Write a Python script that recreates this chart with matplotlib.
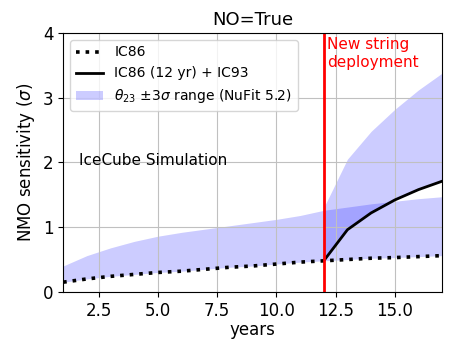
import matplotlib
matplotlib.use('Agg')
import matplotlib.pyplot as plt

# Dataset declaration
years = [1, 2, 3, 4, 5, 6, 7, 8, 9, 10, 11, 12, 13, 14, 15, 16, 17]
ic86 = [0.15, 0.20, 0.24, 0.27, 0.30, 0.32, 0.35, 0.38, 0.40, 0.43, 0.46, 0.48, 0.50, 0.52, 0.53, 0.545, 0.56]
band_ic86_upper = [0.40, 0.56, 0.68, 0.78, 0.86, 0.92, 0.97, 1.02, 1.07, 1.12, 1.18, 1.26, 1.31, 1.36, 1.40, 1.44, 1.47]

years_new = [12, 13, 14, 15, 16, 17]
ic93 = [0.48, 0.96, 1.22, 1.42, 1.58, 1.71]
band_ic93_upper = [1.30, 2.05, 2.48, 2.82, 3.12, 3.38]

fig = plt.figure(figsize=(4.54, 3.43), dpi=100)
ax = fig.add_axes([0.139, 0.149, 0.835, 0.755])

ax.fill_between(years, ic86, band_ic86_upper, color='blue', alpha=0.2, linewidth=0,
                label=r'$\theta_{23}$ $\pm3\sigma$ range (NuFit 5.2)')
ax.fill_between(years_new, ic93, band_ic93_upper, color='blue', alpha=0.2, linewidth=0)
ax.plot(years, ic86, ':', color='black', linewidth=2.6, label='IC86')
ax.plot(years_new, ic93, '-', color='black', linewidth=2, label='IC86 (12 yr) + IC93')
ax.axvline(12, color='red', linewidth=2)

ax.text(12.15, 3.93, 'New string\ndeployment', color='red', fontsize=11, va='top', ha='left')
ax.text(1.65, 2.03, 'IceCube Simulation', fontsize=11, va='center', ha='left')

ax.set_xlim(1, 17)
ax.set_ylim(0, 4)
ax.set_yticks([0, 1, 2, 3, 4])
ax.set_xticks([2.5, 5.0, 7.5, 10.0, 12.5, 15.0])
ax.tick_params(labelsize=12)
ax.set_xlabel('years', fontsize=12, labelpad=1)
ax.set_ylabel(r'NMO sensitivity ($\sigma$)', fontsize=12)
ax.set_title('NO=True', fontsize=13)
ax.grid(True, color='#c0c0c0')

handles, labels = ax.get_legend_handles_labels()
order = [1, 2, 0]
ax.legend([handles[i] for i in order], [labels[i] for i in order], loc='upper left', fontsize=10)

plt.savefig('out.png', dpi=100)
